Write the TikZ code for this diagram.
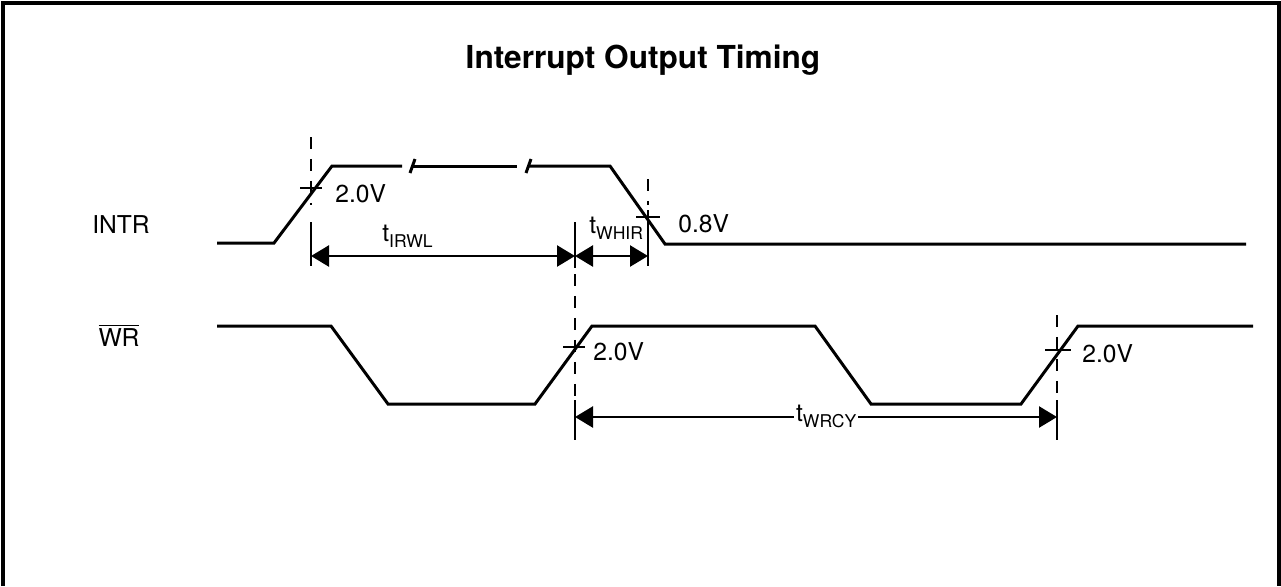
\documentclass[tikz,border=0pt]{standalone}
\usepackage{fontspec}
\setmainfont{TeX Gyre Heros}
\usetikzlibrary{arrows.meta}

\newcommand{\tsig}[1]{t\raisebox{-3.8pt}{\fontsize{10}{11}\selectfont #1}}

\tikzset{
  every node/.style={font=\fontsize{14}{16}\selectfont},
  wave/.style={line width=1.7pt, line join=miter},
  guide/.style={line width=1.3pt, dash pattern=on 7pt off 5.5pt},
  ext/.style={line width=1.3pt},
  cross/.style={line width=1.3pt},
  dimarr/.style={
    {Triangle[length=3.6mm,width=4.2mm]}-{Triangle[length=3.6mm,width=4.2mm]},
    line width=1.4pt
  },
  level/.style={anchor=base west, inner sep=0pt},
  sig/.style={anchor=base, inner sep=0pt},
}

\begin{document}
\begin{tikzpicture}[x=0.02cm, y=-0.02cm]
    \useasboundingbox (0,0) rectangle (1281,586);

    % Frame, open at the bottom
    \draw[line width=2pt] (3,586) -- (3,3) -- (1279,3) -- (1279,586);

    % Title
    \node[sig, font=\fontsize{18}{21}\selectfont\bfseries] (title) at (643,68)
      {Interrupt Output Timing};

    % Signal names
    \node[sig] (intr) at (121,233) {INTR};
    \node[sig] (wr) at (119,346) {$\overline{\mbox{WR}}$};

    % INTR waveform
    \draw[wave] (217,243) -- (274,243) -- (332,166) -- (402,166);
    \draw[wave] (413,166) -- (517,166);
    \draw[wave] (529,166) -- (610,166) -- (665,244) -- (1246,244);
    \draw[wave] (410,173) -- (415,159);
    \draw[wave] (526,173) -- (531,159);

    % WR waveform
    \draw[wave] (217,326) -- (331,326) -- (388,404) -- (535,404)
      -- (592,326) -- (815,326) -- (871,404) -- (1021,404)
      -- (1078,326) -- (1253,326);

    % Reference lines
    \draw[guide] (311,137) -- (311,205);
    \draw[ext] (311,222) -- (311,266);
    \draw[ext] (575,222) -- (575,268);
    \draw[guide] (575,274) -- (575,400);
    \draw[ext] (575,400) -- (575,440);
    \draw[guide] (648,179) -- (648,205);
    \draw[ext] (648,210) -- (648,266);
    \draw[guide] (1057,315) -- (1057,400);
    \draw[ext] (1057,400) -- (1057,440);

    % Crossing marks
    \draw[cross] (300,188) -- (322,188);
    \draw[cross] (563,347) -- (585,347);
    \draw[cross] (636,217) -- (660,217);
    \draw[cross] (1045,350) -- (1071,350);

    % Levels
    \node[level] (v1) at (335,202) {2.0V};
    \node[level] (v2) at (593,360) {2.0V};
    \node[level] (v3) at (678,232) {0.8V};
    \node[level] (v4) at (1082,362) {2.0V};

    % Timing arrows
    \coordinate (irwlA) at (311,256);
    \coordinate (irwlB) at (575,256);
    \coordinate (whirB) at (648,256);
    \coordinate (wrcyA) at (575,417);
    \coordinate (wrcyB) at (1057,417);
    \draw[dimarr] (irwlA) -- (irwlB);
    \draw[dimarr] (irwlB) -- (whirB);
    \draw[dimarr] (wrcyA) -- (wrcyB);

    \node[level] (tirwl) at (382,241) {\tsig{IRWL}};
    \node[level] (twhir) at (589,233) {\tsig{WHIR}};
    \node[level, fill=white, inner xsep=1pt] (twrcy) at (794,421) {\tsig{WRCY}};

\end{tikzpicture}
\end{document}
